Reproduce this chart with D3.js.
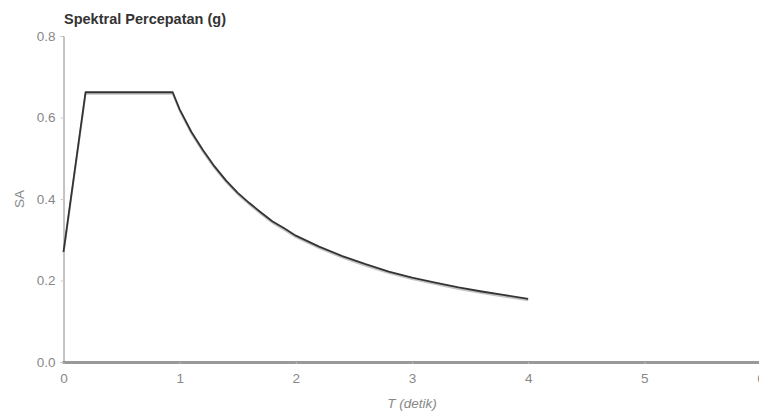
<!DOCTYPE html>
<html>
<head>
<meta charset="utf-8">
<script src="https://cdn.jsdelivr.net/npm/d3@7"></script>
<style>
body { margin: 0; background: #fff; }
svg { display: block; font-family: "Liberation Sans", Arial, sans-serif; }
</style>
</head>
<body>
<script>
// values
var periods = [0, 0.19, 0.94, 1.0, 1.1, 1.2, 1.3, 1.4, 1.5, 1.6, 1.7, 1.8, 1.9, 2.0, 2.2, 2.4, 2.6, 2.8, 3.0, 3.2, 3.4, 3.6, 3.8, 4.0]
var accel = [0.27, 0.662, 0.662, 0.62, 0.565, 0.52, 0.48, 0.445, 0.415, 0.39, 0.367, 0.345, 0.328, 0.31, 0.283, 0.26, 0.24, 0.222, 0.207, 0.195, 0.183, 0.173, 0.164, 0.155]
var xTicks = [0, 1, 2, 3, 4, 5, 6]
var yTicks = [0, 0.2, 0.4, 0.6, 0.8]

var width = 759
var height = 413
var margin = { left: 63.5, top: 36, right: -1.5, bottom: 51 }
var innerWidth = width - margin.left - margin.right
var innerHeight = height - margin.top - margin.bottom

var svg = d3.select('body').append('svg').attr('width', width).attr('height', height)
var g = svg.append('g').attr('transform', `translate(${margin.left},${margin.top})`)

var xScale = d3.scaleLinear().domain([0, 6]).range([0, innerWidth])
var yScale = d3.scaleLinear().domain([0, 0.8]).range([innerHeight, 0])

var data = periods.map((t, i) => ({ t: t, sa: accel[i] }))

// axes
var xAxis = d3.axisBottom(xScale).tickValues(xTicks).tickSize(2).tickPadding(9).tickFormat(d3.format('d'))
var yAxis = d3.axisLeft(yScale).tickValues(yTicks).tickSize(3).tickPadding(5).tickFormat(d3.format('.1f'))

var gx = g.append('g').attr('transform', `translate(0,${innerHeight})`).call(xAxis)
gx.select('.domain').attr('stroke', '#999').attr('stroke-width', 3)
gx.selectAll('.tick line').attr('stroke', '#bbb')
gx.selectAll('.tick text').attr('fill', '#888').attr('font-size', 13.5)

var gy = g.append('g').call(yAxis)
gy.select('.domain').attr('stroke', '#888').attr('stroke-width', 1)
gy.selectAll('.tick line').attr('stroke', '#ccc')
gy.selectAll('.tick text').attr('fill', '#888').attr('font-size', 13.5)

// curve
var line = d3.line().x(d => xScale(d.t)).y(d => yScale(d.sa))

g.append('path').datum(data).attr('d', line)
    .attr('fill', 'none').attr('stroke', '#c4c4c4').attr('stroke-width', 2)
    .attr('transform', 'translate(0,1.5)')
g.append('path').datum(data).attr('d', line)
    .attr('fill', 'none').attr('stroke', '#333').attr('stroke-width', 1.8)
    .attr('stroke-linejoin', 'round')

// labels
svg.append('text').text('Spektral Percepatan (g)')
    .attr('x', 64).attr('y', 24).attr('font-size', 14.5).attr('font-weight', 'bold').attr('fill', '#333')

svg.append('text').text('SA')
    .attr('transform', `translate(24,${margin.top + yScale(0.4)}) rotate(-90)`)
    .attr('text-anchor', 'middle').attr('font-size', 13.5).attr('fill', '#888')

svg.append('text').text('T (detik)')
    .attr('x', margin.left + xScale(3)).attr('y', 408)
    .attr('text-anchor', 'middle').attr('font-size', 13.5).attr('font-style', 'italic').attr('fill', '#888')
</script>
</body>
</html>
